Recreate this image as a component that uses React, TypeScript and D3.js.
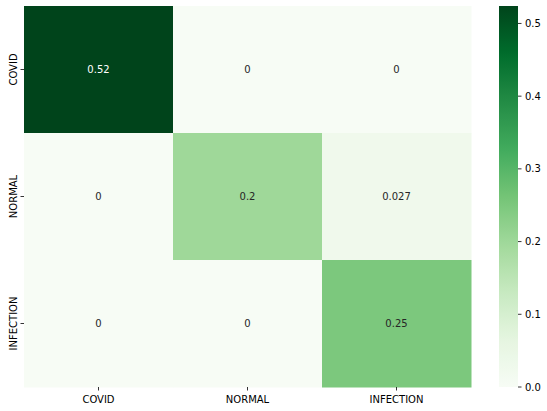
import React from "react";
import * as d3 from "d3";

const labels = ["COVID", "NORMAL", "INFECTION"];
const matrix: number[][] = [
  [0.524, 0, 0],
  [0, 0.2, 0.027],
  [0, 0, 0.25],
];
const colorbarTicks = [0, 0.1, 0.2, 0.3, 0.4, 0.5];
const greens = ["#f7fcf5", "#e5f5e0", "#c7e9c0", "#a1d99b", "#74c476", "#41ab5d", "#238b45", "#006d2c", "#00441b"];

const W = 547, H = 411;
const left = 24, top = 6, right = 471, bottom = 387;
const cbLeft = 499, cbRight = 518;
const font = "DejaVu Sans, sans-serif";

export default function App() {
  const vmin = 0;
  const vmax = d3.max(matrix.flat()) as number;
  const x = d3.scaleBand<string>().domain(labels).range([left, right]);
  const y = d3.scaleBand<string>().domain(labels).range([top, bottom]);
  const cmapPos = d3.scaleLinear().domain(greens.map((_, i) => i / (greens.length - 1))).range(greens as any).interpolate(d3.interpolateRgb as any);
  const color = (v: number) => cmapPos((v - vmin) / (vmax - vmin)) as unknown as string;
  const cbY = d3.scaleLinear().domain([vmin, vmax]).range([bottom, top]);
  const fmt = d3.format(".2~g");
  const lum = (c: string) => {
    const rgb = d3.rgb(c);
    const f = (u: number) => { u /= 255; return u <= 0.03928 ? u / 12.92 : Math.pow((u + 0.055) / 1.055, 2.4); };
    return 0.2126 * f(rgb.r) + 0.7152 * f(rgb.g) + 0.0722 * f(rgb.b);
  };
  const stops = d3.range(0, 1.0001, 0.02);

  return (
    <svg width={W} height={H} style={{ position: "absolute", left: 0, top: 0, background: "#fff" }} fontFamily={font}>
      <defs>
        <linearGradient id="cb" x1="0" y1="1" x2="0" y2="0">
          {stops.map((s, i) => (
            <stop key={i} offset={s} stopColor={cmapPos(s) as unknown as string} />
          ))}
        </linearGradient>
      </defs>
      {matrix.map((row, i) =>
        row.map((v, j) => {
          const c = color(v);
          return (
            <g key={`${i}-${j}`}>
              <rect x={x(labels[j])} y={y(labels[i])} width={x.bandwidth() + 0.5} height={y.bandwidth() + 0.5} fill={c} />
              <text
                x={(x(labels[j]) as number) + x.bandwidth() / 2}
                y={(y(labels[i]) as number) + y.bandwidth() / 2}
                textAnchor="middle"
                dominantBaseline="central"
                fontSize={10}
                fill={lum(c) > 0.408 ? "#262626" : "#ffffff"}
              >
                {fmt(v)}
              </text>
            </g>
          );
        })
      )}
      {labels.map((l) => {
        const cy = (y(l) as number) + y.bandwidth() / 2;
        return (
          <g key={"y" + l}>
            <line x1={left - 3.5} x2={left} y1={cy} y2={cy} stroke="#000" strokeWidth={0.8} />
            <text transform={`translate(${16.5},${cy}) rotate(-90)`} textAnchor="middle" fontSize={10} fill="#000">
              {l}
            </text>
          </g>
        );
      })}
      {labels.map((l) => {
        const cx = (x(l) as number) + x.bandwidth() / 2;
        return (
          <g key={"x" + l}>
            <line x1={cx} x2={cx} y1={bottom} y2={bottom + 3.5} stroke="#000" strokeWidth={0.8} />
            <text x={cx} y={bottom + 15.5} textAnchor="middle" fontSize={10} fill="#000">
              {l}
            </text>
          </g>
        );
      })}
      <rect x={cbLeft} y={top} width={cbRight - cbLeft} height={bottom - top} fill="url(#cb)" />
      {colorbarTicks.map((t) => (
        <g key={"c" + t}>
          <line x1={cbRight} x2={cbRight + 3.5} y1={cbY(t)} y2={cbY(t)} stroke="#000" strokeWidth={0.8} />
          <text x={cbRight + 7} y={cbY(t)} dominantBaseline="central" fontSize={10} fill="#000">
            {d3.format(".1f")(t)}
          </text>
        </g>
      ))}
    </svg>
  );
}
